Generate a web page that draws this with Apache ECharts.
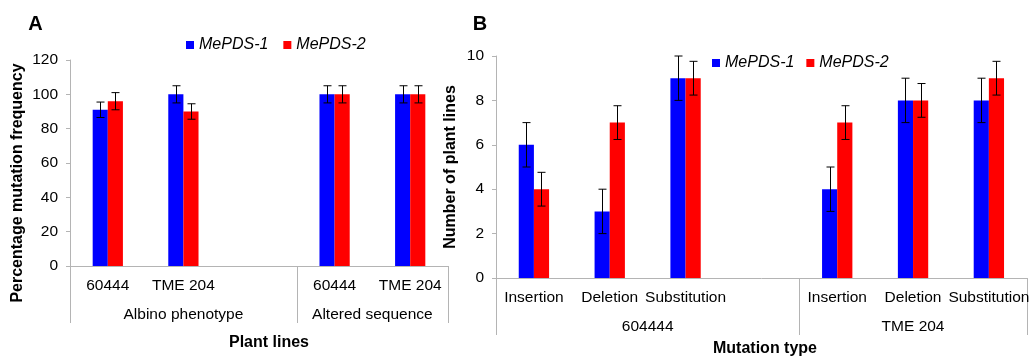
<!DOCTYPE html>
<html>
<head>
<meta charset="utf-8">
<script src="https://cdn.jsdelivr.net/npm/echarts@6/dist/echarts.min.js"></script>
<style>html,body{margin:0;padding:0;background:#fff}#c{width:1032px;height:358px}</style>
</head>
<body>
<div id="c"></div>
<script>
// ---- Panel A data ----
var catsA = ['60444', 'TME 204', '', '60444', 'TME 204'];
var groupsA = ['Albino phenotype', 'Altered sequence'];
var pds1A = [91, 100, null, 100, 100];
var pds1AErr = [4.5, 5, null, 5, 5];
var pds2A = [96, 90, null, 100, 100];
var pds2AErr = [5, 4.5, null, 5, 5];
// ---- Panel B data ----
var catsB = ['Insertion', 'Deletion', 'Substitution', '', 'Insertion', 'Deletion', 'Substitution'];
var groupsB = ['604444', 'TME 204'];
var pds1B = [6, 3, 9, null, 4, 8, 8];
var pds1BErr = [1, 1, 1, null, 1, 1, 1];
var pds2B = [4, 7, 9, null, 7, 8, 9];
var pds2BErr = [0.76, 0.76, 0.76, null, 0.76, 0.76, 0.76];
var seriesNames = ['MePDS-1', 'MePDS-2'];

var FONT = "'Liberation Sans', Arial, sans-serif";
var AXIS_GRAY = '#b4b4b4';
var BLUE = '#0000ff', RED = '#ff0000';
var BAR_FRAC = 0.2;
var TICK_FS = 15.5;

function errData(vals, errs) {
  var out = [];
  for (var i = 0; i < vals.length; i++) {
    if (vals[i] != null) out.push([i, vals[i], errs[i]]);
  }
  return out;
}
function errRender(sign) {
  return function (params, api) {
    var x = api.value(0), y = api.value(1), e = api.value(2);
    var c = api.coord([x, y]);
    var band = api.size([1, 0])[0];
    var w = band * BAR_FRAC;
    var cx = Math.round(c[0] + sign * w / 2) + 0.5;
    var top = api.coord([x, y + e])[1];
    var bot = api.coord([x, y - e])[1];
    var cap = 4;
    var st = { stroke: '#000', lineWidth: 1 };
    return {
      type: 'group',
      children: [
        { type: 'line', shape: { x1: cx, y1: top, x2: cx, y2: bot }, style: st },
        { type: 'line', shape: { x1: cx - cap, y1: top, x2: cx + cap, y2: top }, style: st },
        { type: 'line', shape: { x1: cx - cap, y1: bot, x2: cx + cap, y2: bot }, style: st }
      ]
    };
  };
}

function catAxis(grid, cats) {
  return {
    type: 'category', gridIndex: grid, data: cats, position: 'bottom',
    axisLine: { show: true, lineStyle: { color: AXIS_GRAY, width: 1 } },
    axisTick: { show: false },
    axisLabel: { interval: 0, color: '#000', fontSize: TICK_FS, fontFamily: FONT, margin: 12 },
    splitLine: { show: false }
  };
}
function groupAxis(grid, max, bounds, labelPos, names) {
  return {
    type: 'value', gridIndex: grid, position: 'bottom', offset: 0,
    min: 0, max: max,
    axisLine: { show: false },
    axisTick: { show: true, customValues: bounds, length: 57, inside: false,
      lineStyle: { color: AXIS_GRAY, width: 1 } },
    axisLabel: { customValues: labelPos, color: '#000', fontSize: TICK_FS, fontFamily: FONT, margin: 41,
      formatter: function (v) { var i = labelPos.indexOf(v); return i >= 0 ? names[i] : ''; } },
    splitLine: { show: false }
  };
}
function valAxis(grid, max, interval) {
  return {
    type: 'value', gridIndex: grid, min: 0, max: max, interval: interval,
    axisLine: { show: true, lineStyle: { color: AXIS_GRAY, width: 1 } },
    axisTick: { show: true, length: 4, lineStyle: { color: AXIS_GRAY } },
    axisLabel: { color: '#000', fontSize: TICK_FS, fontFamily: FONT, margin: 12 },
    splitLine: { show: false }
  };
}
function legend(left, top, gap) {
  return {
    left: left, top: top, itemWidth: 8, itemHeight: 8, itemGap: gap, icon: 'rect',
    selectedMode: false, data: seriesNames, padding: 0,
    textStyle: { fontStyle: 'italic', fontSize: 16, fontFamily: FONT, color: '#000' }
  };
}
function titleText(text, x, y, rot, size) {
  return {
    type: 'text', x: x, y: y, rotation: rot || 0,
    style: { text: text, align: 'center', verticalAlign: 'middle',
      font: 'bold ' + (size || 16) + 'px ' + FONT, fill: '#000' }
  };
}

var chart = echarts.init(document.getElementById('c'), null, { renderer: 'canvas' });
chart.setOption({
  animation: false,
  backgroundColor: '#fff',
  grid: [
    { left: 70, right: 584, top: 60, bottom: 92, containLabel: false },
    { left: 496, right: 0, top: 56, bottom: 80, containLabel: false }
  ],
  legend: [legend(186, 37, 15), legend(712, 55, 12)],
  xAxis: [
    catAxis(0, catsA),
    groupAxis(0, 5, [0, 3, 5], [1.5, 4], groupsA),
    catAxis(1, catsB),
    groupAxis(1, 7, [0, 4, 7], [2, 5.5], groupsB)
  ],
  yAxis: [valAxis(0, 120, 20), valAxis(1, 10, 2)],
  series: [
    { name: seriesNames[0], type: 'bar', xAxisIndex: 0, yAxisIndex: 0, data: pds1A,
      barWidth: '20%', barGap: '0%', itemStyle: { color: BLUE } },
    { name: seriesNames[1], type: 'bar', xAxisIndex: 0, yAxisIndex: 0, data: pds2A,
      barWidth: '20%', barGap: '0%', itemStyle: { color: RED } },
    { name: seriesNames[0], type: 'bar', xAxisIndex: 2, yAxisIndex: 1, data: pds1B,
      barWidth: '20%', barGap: '0%', itemStyle: { color: BLUE } },
    { name: seriesNames[1], type: 'bar', xAxisIndex: 2, yAxisIndex: 1, data: pds2B,
      barWidth: '20%', barGap: '0%', itemStyle: { color: RED } },
    { name: 'errA1', type: 'custom', xAxisIndex: 0, yAxisIndex: 0, z: 5,
      renderItem: errRender(-1), data: errData(pds1A, pds1AErr), encode: { x: 0, y: 1 } },
    { name: 'errA2', type: 'custom', xAxisIndex: 0, yAxisIndex: 0, z: 5,
      renderItem: errRender(1), data: errData(pds2A, pds2AErr), encode: { x: 0, y: 1 } },
    { name: 'errB1', type: 'custom', xAxisIndex: 2, yAxisIndex: 1, z: 5,
      renderItem: errRender(-1), data: errData(pds1B, pds1BErr), encode: { x: 0, y: 1 } },
    { name: 'errB2', type: 'custom', xAxisIndex: 2, yAxisIndex: 1, z: 5,
      renderItem: errRender(1), data: errData(pds2B, pds2BErr), encode: { x: 0, y: 1 } }
  ],
  graphic: [
    titleText('A', 35.5, 24, 0, 20),
    titleText('B', 480, 24.5, 0, 20),
    titleText('Percentage mutation frequency', 18, 183, Math.PI / 2, 16),
    titleText('Number of plant lines', 451, 167, Math.PI / 2, 16),
    titleText('Plant lines', 269, 343, 0, 16),
    titleText('Mutation type', 765, 349, 0, 16)
  ]
});
</script>
</body>
</html>
